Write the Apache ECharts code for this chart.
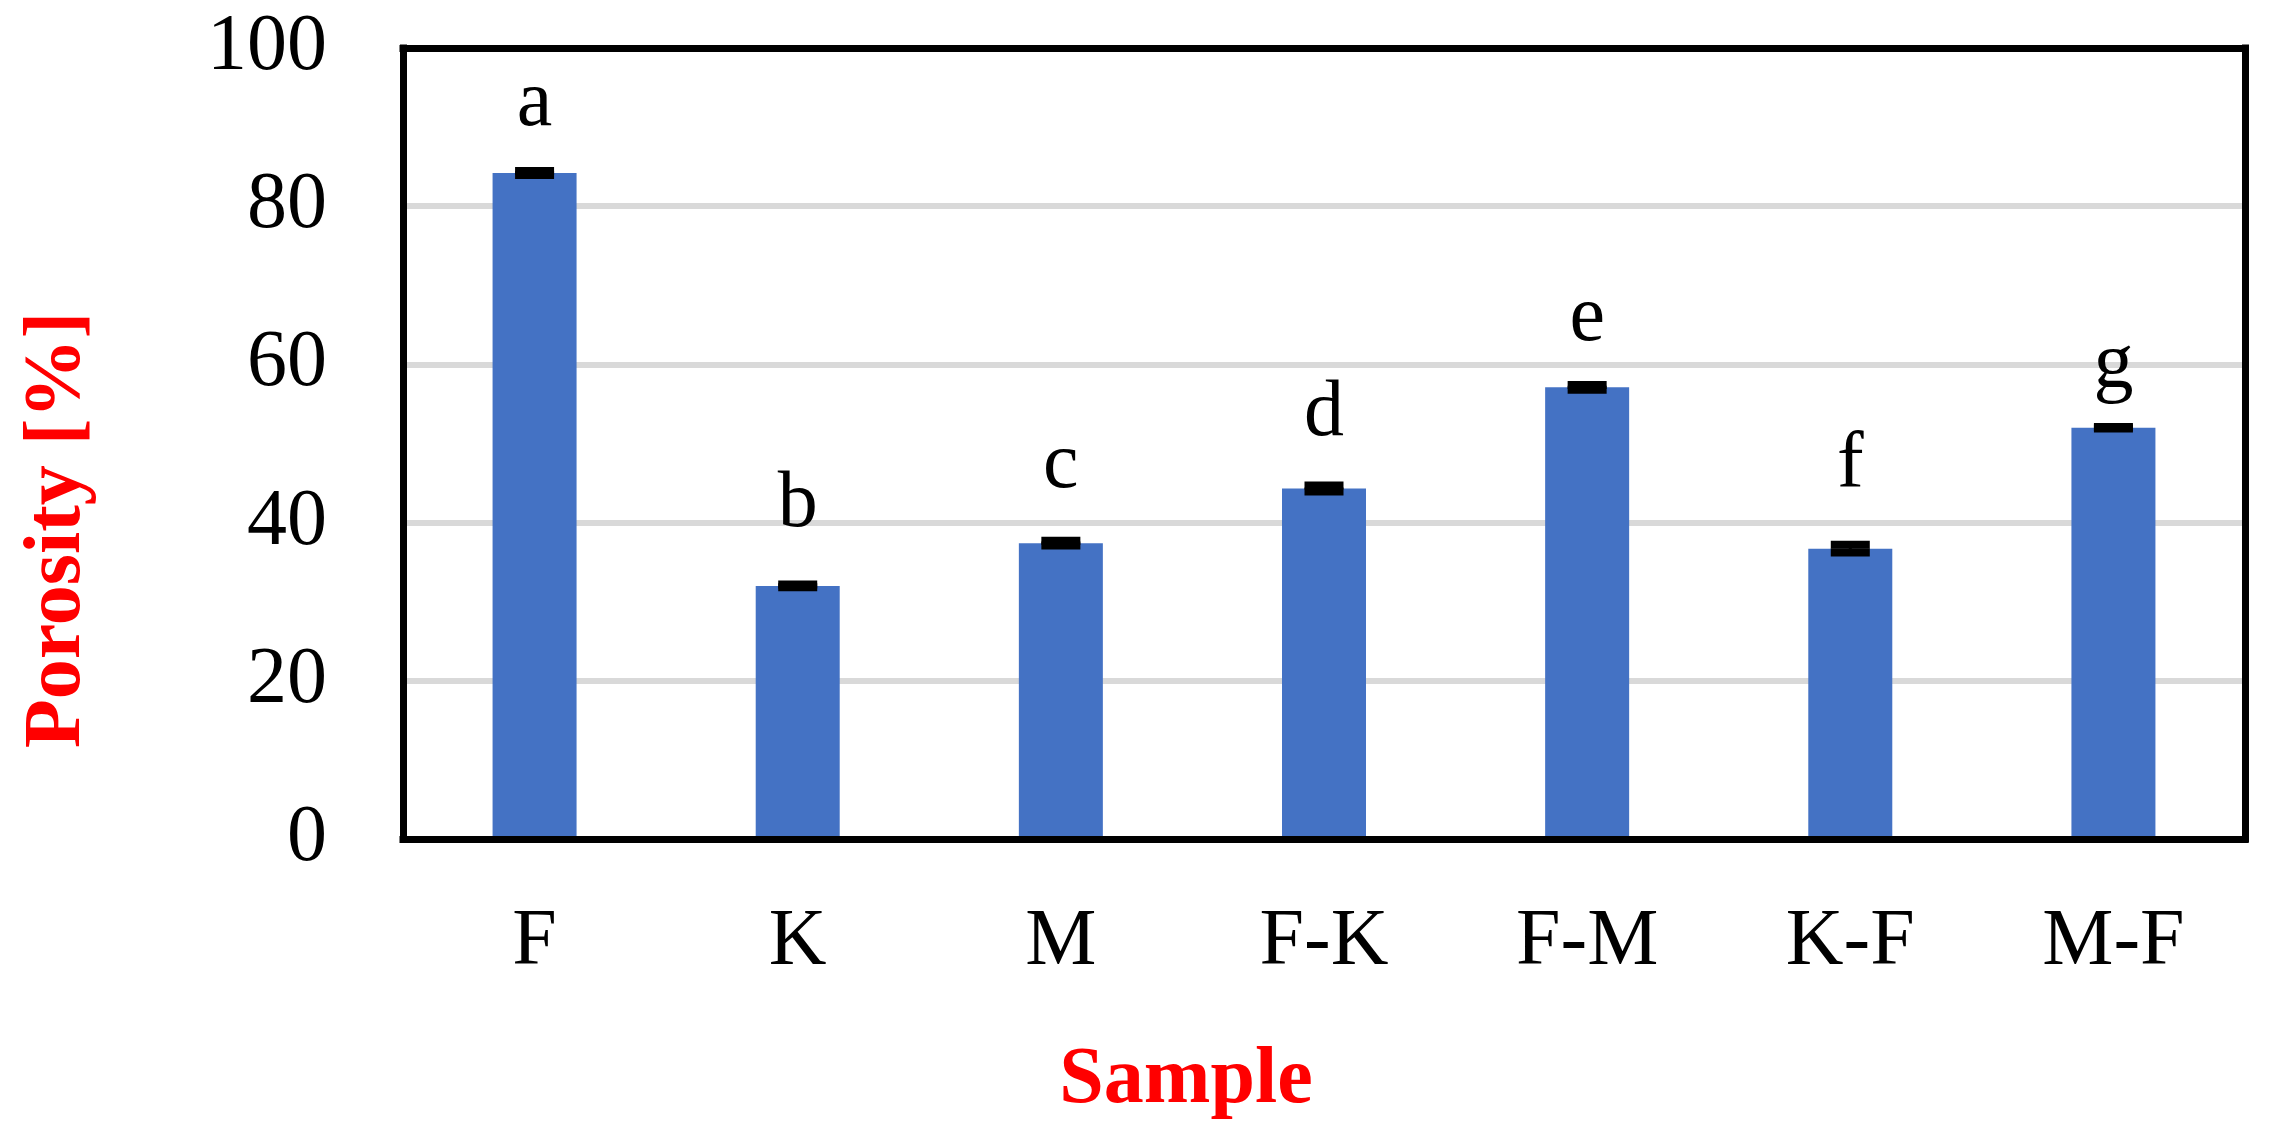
<!DOCTYPE html>
<html>
<head>
<meta charset="utf-8">
<script src="https://cdn.jsdelivr.net/npm/echarts@6/dist/echarts.min.js"></script>
<style>
    html, body { margin: 0; padding: 0; background: #ffffff; }
    #chart { width: 2277px; height: 1139px; }
</style>
</head>
<body>
<div id="chart"></div>
<script>
const SAMPLES = ["F", "K", "M", "F-K", "F-M", "K-F", "M-F"];
const POROSITY = [84.2, 32.0, 37.4, 44.3, 57.1, 36.7, 52.0];
const POROSITY_ERR = [0.25, 0.17, 0.3, 0.38, 0.3, 0.49, 0.1];
const GROUP_LETTERS = ["a", "b", "c", "d", "e", "f", "g"];
const LETTER_Y = [92.9, 42.2, 47.2, 53.7, 65.7, 47.1, 59.8];
const Y_TICKS = [0, 20, 40, 60, 80, 100];

const FONT = '"Liberation Serif", "Times New Roman", serif';
const FRAME = { show: true, onZero: false, lineStyle: { color: "#000000", width: 7, cap: "square" } };

const chart = echarts.init(document.getElementById("chart"));

chart.setOption({
    backgroundColor: "#ffffff",
    animation: false,
    grid: { left: 403, right: 32, top: 48, bottom: 300 },
    xAxis: [
        {
            type: "category",
            z: 8,
            data: SAMPLES,
            axisLine: FRAME,
            axisTick: { show: false },
            axisLabel: { color: "#000000", fontFamily: FONT, fontSize: 80, margin: 64 },
        },
        {
            type: "category",
            position: "top",
            z: 8,
            data: SAMPLES,
            axisLine: FRAME,
            axisTick: { show: false },
            axisLabel: { show: false },
        },
    ],
    yAxis: [
        {
            type: "value",
            min: Y_TICKS[0],
            max: Y_TICKS[Y_TICKS.length - 1],
            interval: 20,
            axisLine: FRAME,
            axisTick: { show: false },
            axisLabel: { color: "#000000", fontFamily: FONT, fontSize: 80, margin: 76 },
            splitLine: { showMinLine: false, showMaxLine: false, lineStyle: { color: "#d9d9d9", width: 6 } },
        },
        {
            type: "value",
            position: "right",
            z: 8,
            min: Y_TICKS[0],
            max: Y_TICKS[Y_TICKS.length - 1],
            interval: 20,
            axisLine: FRAME,
            axisTick: { show: false },
            axisLabel: { show: false },
            splitLine: { show: false },
        },
    ],
    graphic: [
        {
            type: "text", x: 1186, y: 1081, z: 10,
            style: {
                text: "Sample", fill: "#ff0000", fontFamily: FONT, fontSize: 80,
                fontWeight: "bold", align: "center", verticalAlign: "middle",
            },
        },
        {
            type: "text", x: 58, y: 530, rotation: Math.PI / 2, z: 10,
            style: {
                text: "Porosity [%]", fill: "#ff0000", fontFamily: FONT, fontSize: 80,
                fontWeight: "bold", align: "center", verticalAlign: "middle",
            },
        },
    ],
    series: [
        {
            type: "bar",
            data: POROSITY,
            barWidth: 84,
            itemStyle: { color: "#4472c4" },
        },
        {
            // error bars
            type: "custom",
            z: 5,
            data: POROSITY.map((v, i) => [i, v - POROSITY_ERR[i], v + POROSITY_ERR[i]]),
            renderItem(params, api) {
                const lo = api.coord([api.value(0), api.value(1)]);
                const hi = api.coord([api.value(0), api.value(2)]);
                const half = 19.5;
                const style = { stroke: "#000000", lineWidth: 8 };
                return {
                    type: "group",
                    children: [
                        { type: "line", shape: { x1: hi[0], y1: hi[1], x2: lo[0], y2: lo[1] }, style: { stroke: "#000000", lineWidth: 3 } },
                        { type: "line", shape: { x1: hi[0] - half, y1: hi[1], x2: hi[0] + half, y2: hi[1] }, style },
                        { type: "line", shape: { x1: lo[0] - half, y1: lo[1], x2: lo[0] + half, y2: lo[1] }, style },
                    ],
                };
            },
        },
        {
            // significance letters
            type: "custom",
            z: 6,
            data: LETTER_Y.map((y, i) => [i, y]),
            renderItem(params, api) {
                const pt = api.coord([api.value(0), api.value(1)]);
                return {
                    type: "text",
                    x: pt[0],
                    y: pt[1],
                    style: {
                        text: GROUP_LETTERS[params.dataIndex],
                        fill: "#000000",
                        fontFamily: FONT,
                        fontSize: 80,
                        align: "center",
                        verticalAlign: "middle",
                    },
                };
            },
        },
    ],
});
</script>
</body>
</html>
